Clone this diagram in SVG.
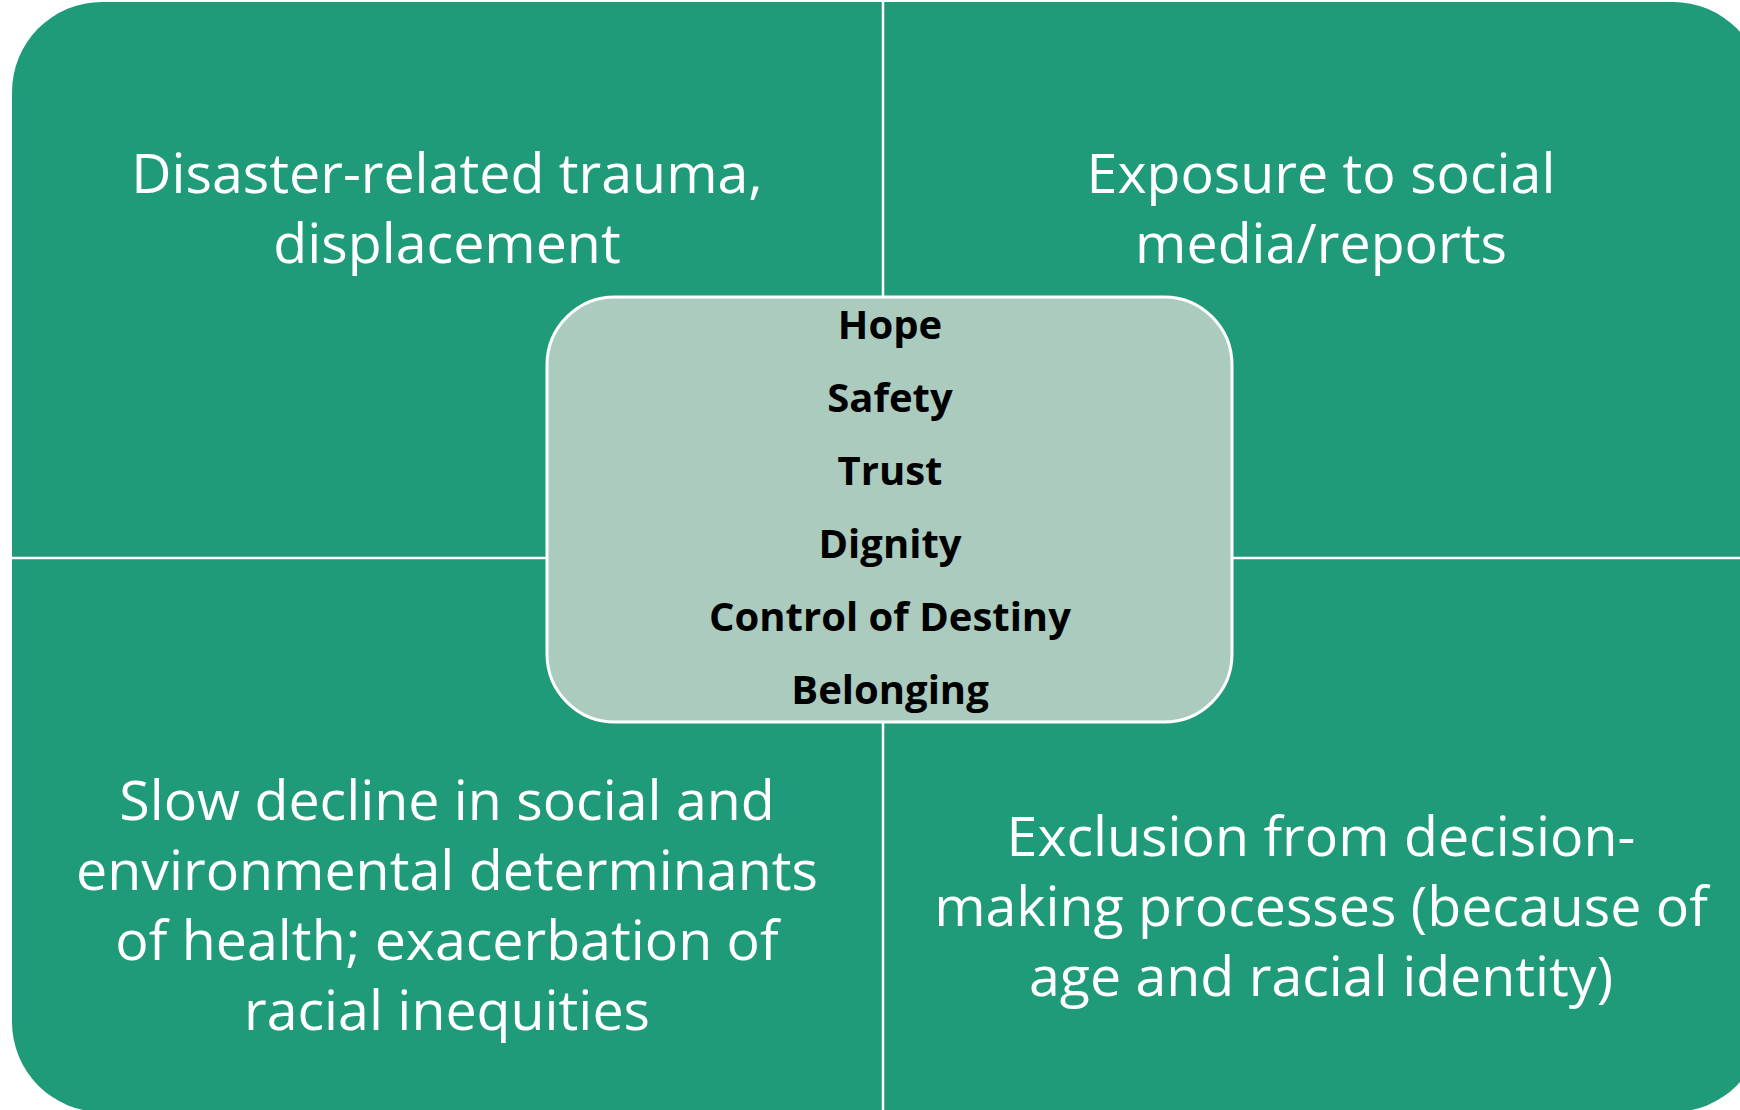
<svg xmlns="http://www.w3.org/2000/svg" width="1740" height="1110" viewBox="0 0 1740 1110">
<style>
.q{fill:#1F9B79}
.qt{font-family:"Open Sans",Lato,sans-serif;font-size:55.5px;fill:#ffffff;text-anchor:middle;font-variant-ligatures:none}
.ct{font-family:"Open Sans",Lato,sans-serif;font-size:40px;font-weight:bold;fill:#000000;text-anchor:middle;font-variant-ligatures:none}
.div{stroke:#ffffff;stroke-width:2.5;fill:none}
</style>
<rect width="1740" height="1110" fill="#ffffff"/>
<g id="quadrants">
<path id="q-tl" class="q" d="M12,558 V92 A90,90 0 0 1 102,2 H883 V558 Z"/>
<path id="q-tr" class="q" d="M883,2 H1673 A90,90 0 0 1 1763,92 V558 H883 Z"/>
<path id="q-bl" class="q" d="M12,558 H883 V1112 H102 A90,90 0 0 1 12,1022 Z"/>
<path id="q-br" class="q" d="M883,558 H1763 V1022 A90,90 0 0 1 1673,1112 H883 Z"/>
</g>
<g id="connectors">
<line class="div" x1="883" y1="0" x2="883" y2="1110"/>
<line class="div" x1="12" y1="558" x2="1740" y2="558"/>
</g>
<g id="tl-text">
<text class="qt" x="447" y="193">Disaster-related trauma,</text>
<text class="qt" x="447" y="263">displacement</text>
</g>
<g id="tr-text">
<text class="qt" x="1321" y="193">Exposure to social</text>
<text class="qt" x="1321" y="263">media/reports</text>
</g>
<g id="bl-text">
<text class="qt" x="447" y="820">Slow decline in social and</text>
<text class="qt" x="447" y="890">environmental determinants</text>
<text class="qt" x="447" y="960">of health; exacerbation of</text>
<text class="qt" x="447" y="1030">racial inequities</text>
</g>
<g id="br-text">
<text class="qt" x="1321" y="856">Exclusion from decision-</text>
<text class="qt" x="1321" y="926">making processes (because of</text>
<text class="qt" x="1321" y="996">age and racial identity)</text>
</g>
<g id="center">
<rect x="547" y="297" width="685" height="425" rx="68" ry="68" fill="#AACBBE" stroke="#ffffff" stroke-width="3"/>
<text class="ct" x="890" y="339">Hope</text>
<text class="ct" x="890" y="412">Safety</text>
<text class="ct" x="890" y="485">Trust</text>
<text class="ct" x="890" y="558">Dignity</text>
<text class="ct" x="890" y="631">Control of Destiny</text>
<text class="ct" x="890" y="704">Belonging</text>
</g>
</svg>
